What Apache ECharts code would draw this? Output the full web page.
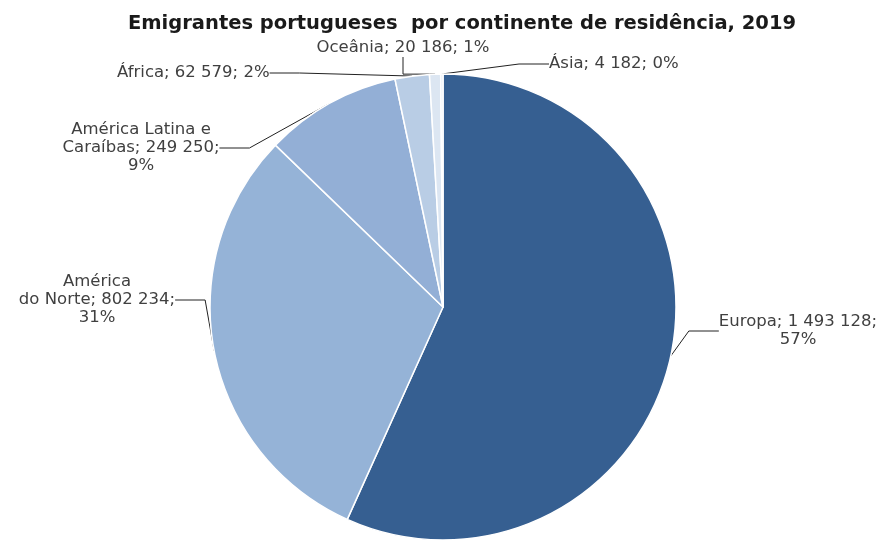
<!DOCTYPE html>
<html>
<head>
<meta charset="utf-8">
<script src="https://cdn.jsdelivr.net/npm/echarts@6/dist/echarts.min.js"></script>
<style>html,body{margin:0;padding:0;background:#fff;}#chart{width:882px;height:543px;}</style>
</head>
<body>
<div id="chart"></div>
<script>
const categories = ['Europa', 'América do Norte', 'América Latina e Caraíbas', 'África', 'Oceânia', 'Ásia'];
const values = [1493128, 802234, 249250, 62579, 20186, 4182];
const colors = ['#365f91', '#95b3d7', '#93afd6', '#b9cde5', '#dce6f2', '#e6edf6'];

function fmt(n) { return String(n).replace(/\B(?=(\d{3})+(?!\d))/g, ' '); }

// label anchor positions (pixels) and alignment
const labelPos = [
  { x: 798, y: 331, align: 'center' },
  { x: 97, y: 300, align: 'center' },
  { x: 141, y: 148, align: 'center' },
  { x: 117, y: 73, align: 'left' },
  { x: 403, y: 48, align: 'center' },
  { x: 549, y: 64, align: 'left' }
];

const chart = echarts.init(document.getElementById('chart'));
chart.setOption({
  animation: false,
  backgroundColor: '#fff',
  title: {
    text: 'Emigrantes portugueses  por continente de residência, 2019',
    left: 457, top: 9, textAlign: 'center',
    textStyle: { fontFamily: 'DejaVu Sans, sans-serif', fontWeight: 'bold', fontSize: 19.5, color: '#1a1a1a' }
  },
  series: [{
    type: 'pie',
    center: [443, 307],
    radius: 233,
    startAngle: 90,
    clockwise: true,
    avoidLabelOverlap: false,
    percentPrecision: 0,
    itemStyle: { borderColor: '#fff', borderWidth: 1.5 },
    data: categories.map((c, i) => ({ name: c, value: values[i], itemStyle: { color: colors[i] } })),
    label: {
      show: true,
      fontFamily: 'DejaVu Sans, sans-serif',
      fontSize: 16.5,
      lineHeight: 18,
      color: '#404040',
      formatter: p => {
        const i = p.dataIndex;
        if (i === 0) return 'Europa; ' + fmt(values[i]) + ';\n' + p.percent + '%';
        if (i === 1) return 'América\ndo Norte; ' + fmt(values[i]) + ';\n' + p.percent + '%';
        if (i === 2) return 'América Latina e\nCaraíbas; ' + fmt(values[i]) + ';\n' + p.percent + '%';
        return categories[i] + '; ' + fmt(values[i]) + '; ' + p.percent + '%';
      }
    },
    labelLine: { show: true, lineStyle: { color: '#222', width: 1 } },
    labelLayout: function (params) {
      const lp = labelPos[params.dataIndex];
      return { x: lp.x, y: lp.y, align: lp.align, verticalAlign: 'middle' };
    }
  }]
});
</script>
</body>
</html>
